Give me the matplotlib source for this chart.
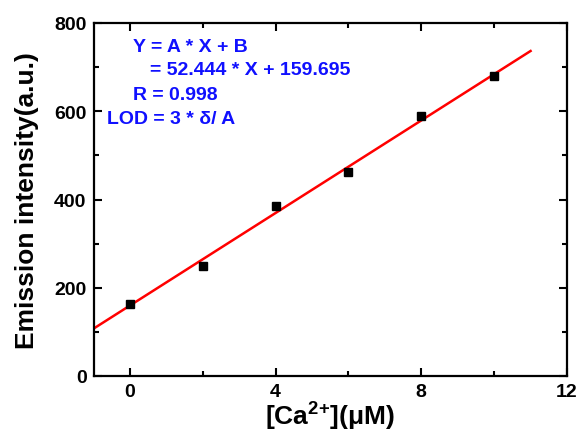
import numpy as np
import matplotlib
matplotlib.use('Agg')
import matplotlib.pyplot as plt
from matplotlib.ticker import MultipleLocator

plt.rcParams['font.family'] = ['Liberation Sans', 'DejaVu Sans']
plt.rcParams['font.weight'] = 'bold'
plt.rcParams['mathtext.fontset'] = 'custom'
plt.rcParams['mathtext.rm'] = 'Liberation Sans:bold'
plt.rcParams['mathtext.default'] = 'regular'

# 浓度与发射强度
conc = [0, 2, 4, 6, 8, 10]
intensity = [163, 250, 385, 463, 590, 680]
slope = 52.444
intercept = 159.695
fit_x = [-1, 11]

fig = plt.figure(figsize=(5.84, 4.39), dpi=100)
ax = fig.add_axes([93.5 / 584, 62 / 439, 473.5 / 584, 353 / 439])

fx = np.array(fit_x)
ax.plot(fx, slope * fx + intercept, color='red', linewidth=1.8, zorder=2)
ax.plot(conc, intensity, 's', color='black', markersize=6, zorder=3)

ax.set_xlim(-1, 12)
ax.set_ylim(0, 800)
ax.xaxis.set_major_locator(MultipleLocator(4))
ax.xaxis.set_minor_locator(MultipleLocator(2))
ax.yaxis.set_major_locator(MultipleLocator(200))
ax.yaxis.set_minor_locator(MultipleLocator(100))
ax.tick_params(which='both', direction='in', top=True, right=True,
               width=1.5, labelsize=14)
ax.tick_params(which='major', length=6, pad=5)
ax.tick_params(which='minor', length=3.5)
for s in ax.spines.values():
    s.set_linewidth(1.6)

ax.set_xlabel('[Ca$^{2{+}}$](μM)', fontsize=19, fontweight='bold', labelpad=0)
ax.set_ylabel('Emission intensity(a.u.)', fontsize=19, fontweight='bold', labelpad=11)

# 拟合方程
blue = '#1010ff'
lines = [(133, 47, 'Y = A * X + B'),
         (150, 71, '= 52.444 * X + 159.695'),
         (133, 96, 'R = 0.998'),
         (107, 120, 'LOD = 3 * δ/ A')]
for px, py, s in lines:
    fig.text(px / 584, 1 - py / 439, s, color=blue, fontsize=14,
             fontweight='bold', va='center')

fig.savefig('out.png', dpi=100)
